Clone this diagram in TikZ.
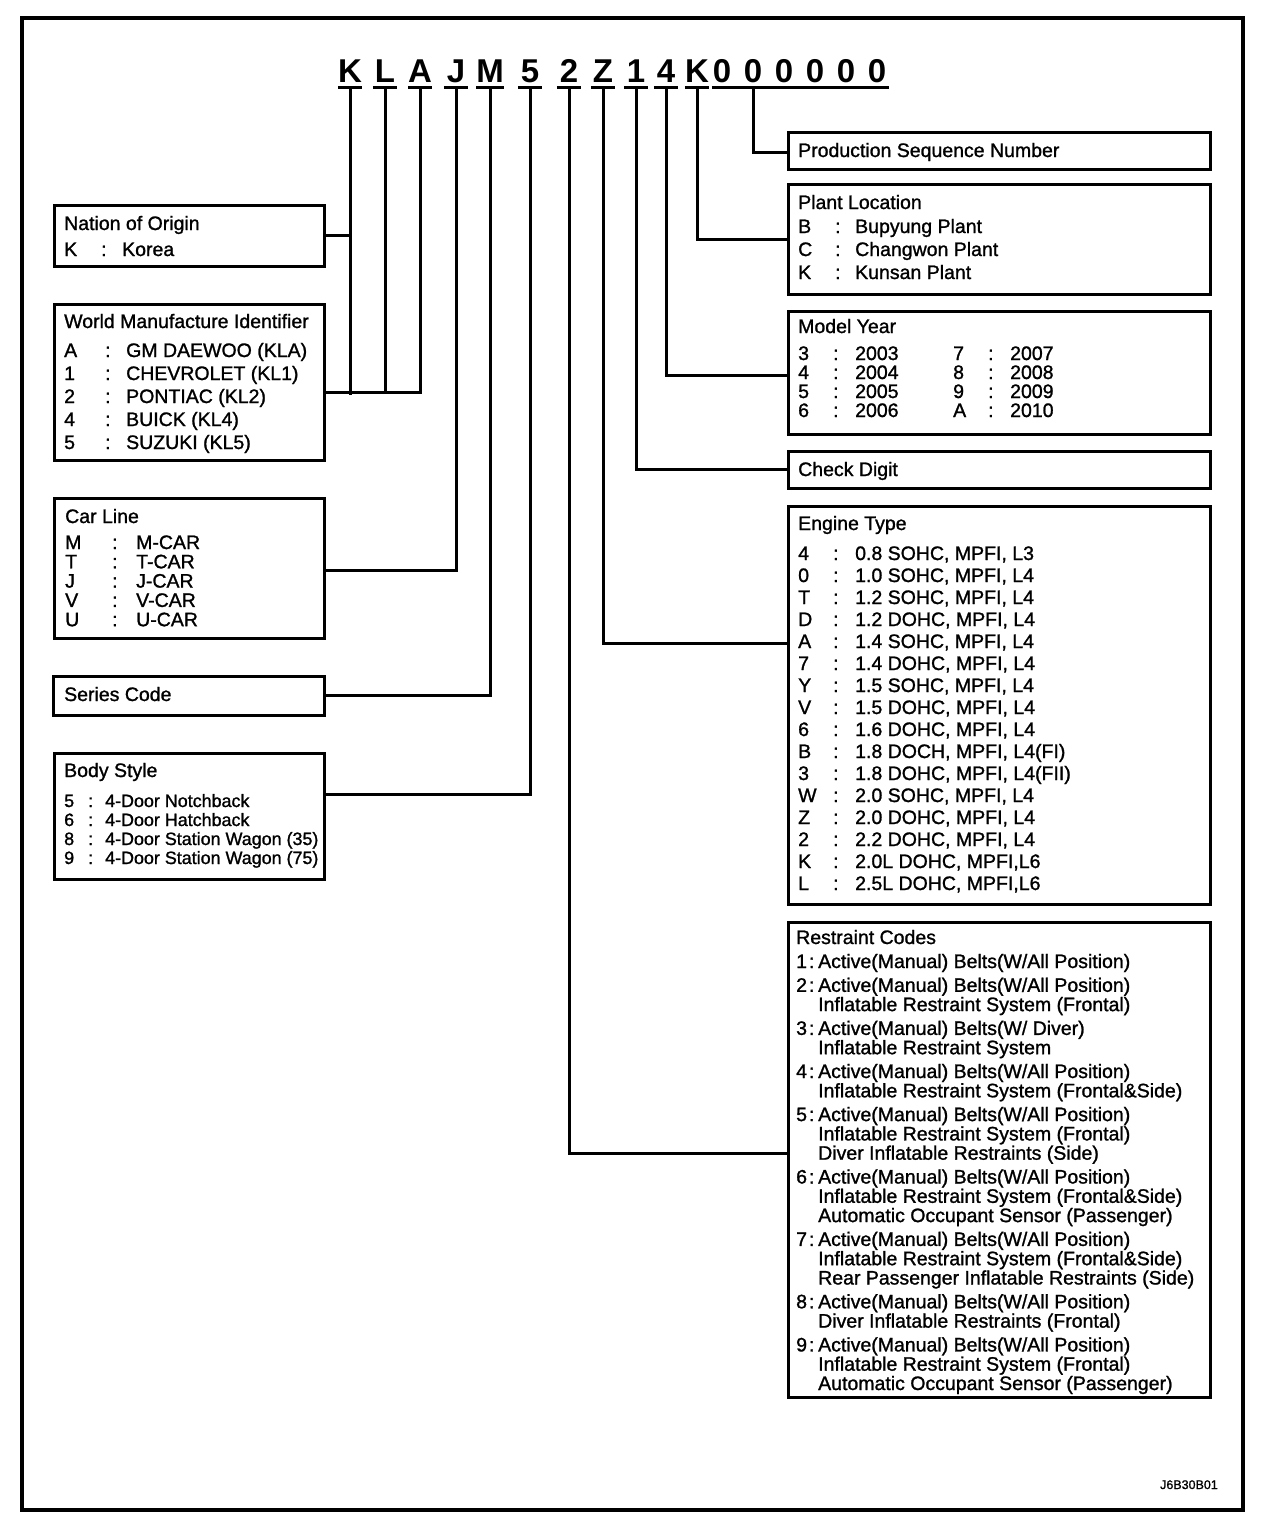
\documentclass[tikz,border=0pt]{standalone}
\usepackage{fontspec}
\setmainfont{Liberation Sans}
\newfontfamily\diagfont{Liberation Sans}[FakeBold=1.2]
\usetikzlibrary{positioning}

\newcommand\keyw{30pt}
\newcommand\colw{20pt}
\newcommand\row[2]{\makebox[\keyw][l]{#1}\makebox[\colw][l]{:}#2}
\newcommand\rc[1]{\makebox[22pt][l]{#1\hspace{2pt}:}}
\newcommand\ind{\hspace*{22pt}}
\newcommand\boxtext[3]{\def\keyw{#1}\def\colw{#2}\parbox[t]{400pt}{\raggedright #3}}

\begin{document}
\begin{tikzpicture}[x=1pt,y=-1pt,
  box/.style={draw, line width=2.5pt, anchor=north west, inner sep=0pt},
  txt/.style={anchor=base west, inner sep=0pt, font=\diagfont\fontsize{19.5}{#1}\selectfont},
  conn/.style={line width=3pt},
  vinch/.style={anchor=base, inner xsep=0pt, inner ysep=5pt, text depth=0pt, minimum width=24pt, font=\fontsize{33}{33}\selectfont\bfseries}
]
\useasboundingbox (0,0) rectangle (1264,1524);
\draw[line width=3.5pt] (22,18) rectangle (1243,1510);

% VIN characters
\foreach \c/\x [count=\i] in {K/350,L/385,A/420,J/456,M/490,5/530,2/569,Z/603,1/636,4/666,K/697}{
  \node[vinch] (v\i) at (\x,82) {\c};
  \draw[conn] (v\i.south west) -- (v\i.south east);
}
\foreach \i in {1,...,6}{
  \node[vinch] (z\i) at ({691+31*\i},82) {0};
}
\draw[conn] ([xshift=2pt]z1.south west) -- (z6.south east);

% left column
\node[box, minimum width=270, minimum height=61] (nation) at (53,204) {};
\node[txt=23] (nationtxt) at ([shift={(11,26)}]nation.north west)
  {\boxtext{37pt}{21pt}{Nation of Origin\\[3pt] \row{K}{Korea}}};

\node[box, minimum width=270, minimum height=156] (wmi) at (53,303) {};
\node[txt=23] (wmitxt) at ([shift={(11,25)}]wmi.north west)
  {\boxtext{41pt}{21pt}{World Manufacture Identifier\\[6pt]
   \row{A}{GM DAEWOO (KLA)}\\ \row{1}{CHEVROLET (KL1)}\\ \row{2}{PONTIAC (KL2)}\\
   \row{4}{BUICK (KL4)}\\ \row{5}{SUZUKI (KL5)}}};

\node[box, minimum width=270, minimum height=140] (carline) at (53,497) {};
\node[txt=19.3] (carlinetxt) at ([shift={(12,26)}]carline.north west)
  {\boxtext{47pt}{24pt}{Car Line\\[6.7pt]
   \row{M}{M-CAR}\\ \row{T}{T-CAR}\\ \row{J}{J-CAR}\\ \row{V}{V-CAR}\\ \row{U}{U-CAR}}};

\node[box, minimum width=271, minimum height=39] (series) at (52,675) {};
\node[txt=23] (seriestxt) at ([shift={(12,26)}]series.north west) {Series Code};

\node[box, minimum width=270, minimum height=126] (body) at (53,752) {};
\node[txt=19] (bodytxt) at ([shift={(11,25)}]body.north west)
  {\boxtext{24pt}{17pt}{Body Style\\[11pt] \fontsize{17.9}{19}\selectfont
   \row{5}{4-Door Notchback}\\ \row{6}{4-Door Hatchback}\\
   \row{8}{4-Door Station Wagon (35)}\\ \row{9}{4-Door Station Wagon (75)}}};

% right column
\node[box, minimum width=422, minimum height=37] (prod) at (787,131) {};
\node[txt=23] (prodtxt) at ([shift={(11,26)}]prod.north west) {Production Sequence Number};

\node[box, minimum width=422, minimum height=110] (plant) at (787,183) {};
\node[txt=23] (planttxt) at ([shift={(11,26)}]plant.north west)
  {\boxtext{37pt}{20pt}{Plant Location\\[1pt]
   \row{B}{Bupyung Plant}\\ \row{C}{Changwon Plant}\\ \row{K}{Kunsan Plant}}};

\node[box, minimum width=422, minimum height=123] (year) at (787,310) {};
\node[txt=19] (yeartxt) at ([shift={(11,23)}]year.north west)
  {\boxtext{35pt}{22pt}{Model Year\\[8pt]
   \row{3}{\makebox[98pt][l]{2003}}\row{7}{2007}\\
   \row{4}{\makebox[98pt][l]{2004}}\row{8}{2008}\\
   \row{5}{\makebox[98pt][l]{2005}}\row{9}{2009}\\
   \row{6}{\makebox[98pt][l]{2006}}\row{A}{2010}}};

\node[box, minimum width=422, minimum height=37] (check) at (787,450) {};
\node[txt=23] (checktxt) at ([shift={(11,26)}]check.north west) {Check Digit};

\node[box, minimum width=422, minimum height=398] (engine) at (787,505) {};
\node[txt=22] (enginetxt) at ([shift={(11,25)}]engine.north west)
  {\boxtext{35pt}{22pt}{Engine Type\\[8pt]
   \row{4}{0.8 SOHC, MPFI, L3}\\ \row{0}{1.0 SOHC, MPFI, L4}\\
   \row{T}{1.2 SOHC, MPFI, L4}\\ \row{D}{1.2 DOHC, MPFI, L4}\\
   \row{A}{1.4 SOHC, MPFI, L4}\\ \row{7}{1.4 DOHC, MPFI, L4}\\
   \row{Y}{1.5 SOHC, MPFI, L4}\\ \row{V}{1.5 DOHC, MPFI, L4}\\
   \row{6}{1.6 DOHC, MPFI, L4}\\ \row{B}{1.8 DOCH, MPFI, L4(FI)}\\
   \row{3}{1.8 DOHC, MPFI, L4(FII)}\\ \row{W}{2.0 SOHC, MPFI, L4}\\
   \row{Z}{2.0 DOHC, MPFI, L4}\\ \row{2}{2.2 DOHC, MPFI, L4}\\
   \row{K}{2.0L DOHC, MPFI,L6}\\ \row{L}{2.5L DOHC, MPFI,L6}}};

\node[box, minimum width=422, minimum height=475] (restr) at (787,921) {};
\node[txt=19.3] (restrtxt) at ([shift={(9,23)}]restr.north west)
  {\boxtext{22pt}{0pt}{Restraint Codes\\[4.7pt]
   \rc{1}Active(Manual) Belts(W/All Position)\\[4.5pt]
   \rc{2}Active(Manual) Belts(W/All Position)\\ \ind Inflatable Restraint System (Frontal)\\[4.5pt]
   \rc{3}Active(Manual) Belts(W/ Diver)\\ \ind Inflatable Restraint System\\[4.5pt]
   \rc{4}Active(Manual) Belts(W/All Position)\\ \ind Inflatable Restraint System (Frontal\&Side)\\[4.5pt]
   \rc{5}Active(Manual) Belts(W/All Position)\\ \ind Inflatable Restraint System (Frontal)\\ \ind Diver Inflatable Restraints (Side)\\[4.5pt]
   \rc{6}Active(Manual) Belts(W/All Position)\\ \ind Inflatable Restraint System (Frontal\&Side)\\ \ind Automatic Occupant Sensor (Passenger)\\[4.5pt]
   \rc{7}Active(Manual) Belts(W/All Position)\\ \ind Inflatable Restraint System (Frontal\&Side)\\ \ind Rear Passenger Inflatable Restraints (Side)\\[4.5pt]
   \rc{8}Active(Manual) Belts(W/All Position)\\ \ind Diver Inflatable Restraints (Frontal)\\[4.5pt]
   \rc{9}Active(Manual) Belts(W/All Position)\\ \ind Inflatable Restraint System (Frontal)\\ \ind Automatic Occupant Sensor (Passenger)}};

\node[anchor=base east, inner sep=0pt, font=\diagfont\fontsize{12.5}{12.5}\selectfont] (figid) at (1218,1489) {J6B30B01};

% connectors
\draw[conn] (nation.east) -| (v1.south);
\draw[conn] (v1.south) -- (v1.south |- 0,395);
\draw[conn] (v2.south) -- (v2.south |- 0,392);
\draw[conn] (wmi.east |- 0,392) -| (v3.south);
\draw[conn] (carline.east |- 0,570) -| (v4.south);
\draw[conn] (series.east) -| (v5.south);
\draw[conn] (body.east |- 0,794) -| (v6.south);
\draw[conn] (restr.west |- 0,1153) -| (v7.south);
\draw[conn] (engine.west |- 0,643) -| (v8.south);
\draw[conn] (check.west) -| (v9.south);
\draw[conn] (year.west |- 0,375) -| (v10.south);
\draw[conn] (plant.west) -| (v11.south);
\draw[conn] (prod.west |- 0,152) -| (z2.south);
\end{tikzpicture}
\end{document}
